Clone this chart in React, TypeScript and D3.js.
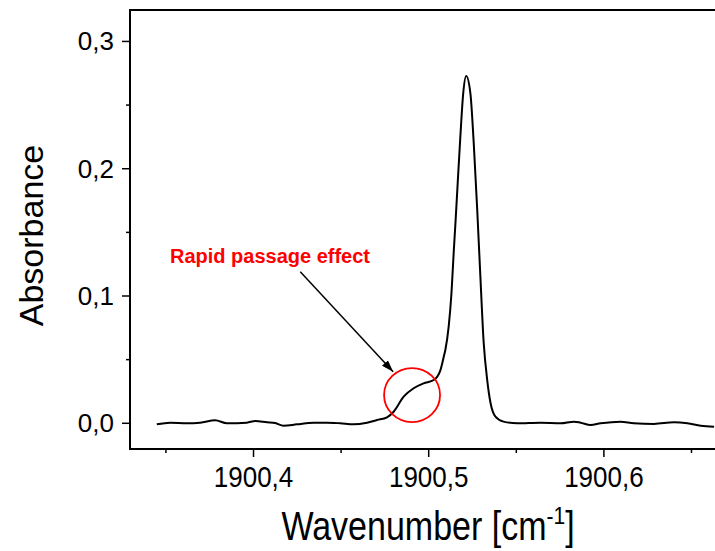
import React from "react";
import * as d3 from "d3";

// Spectrum
const wavenumber = [
  1900.3448, 1900.3524, 1900.3619, 1900.3695, 1900.3781, 1900.3848, 1900.3962, 1900.401,
  1900.4077, 1900.4124, 1900.4171, 1900.4248, 1900.4343, 1900.4419, 1900.4495, 1900.4571,
  1900.4648, 1900.4705, 1900.4762, 1900.48, 1900.4857, 1900.4914, 1900.4971, 1900.5029,
  1900.5067, 1900.5086, 1900.5095, 1900.5114, 1900.513, 1900.5143, 1900.5153, 1900.5166,
  1900.5181, 1900.5197, 1900.5214, 1900.5238, 1900.5257, 1900.5277, 1900.5295, 1900.5314,
  1900.5334, 1900.5353, 1900.5381, 1900.5427, 1900.5505, 1900.5638, 1900.5753, 1900.5829,
  1900.5867, 1900.5924, 1900.5981, 1900.6095, 1900.6171, 1900.6286, 1900.64, 1900.6477,
  1900.6553, 1900.6629,
];
const absorbance = [
  -0.0008, 0.0005, 0.0, 0.0004, 0.0024, 0.0, 0.0005, 0.0018,
  0.0008, 0.0002, -0.0019, -0.0008, 0.0005, 0.0005, 0.0, -0.0008,
  0.0005, 0.0026, 0.0047, 0.0091, 0.0209, 0.0275, 0.0314, 0.034,
  0.0418, 0.0523, 0.0576, 0.0759, 0.1024, 0.135, 0.158, 0.19,
  0.226, 0.2592, 0.2728, 0.2592, 0.2202, 0.1676, 0.1152, 0.0631,
  0.034, 0.0159, 0.0052, 0.0013, 0.0, 0.0005, 0.0, 0.0013,
  0.0005, -0.0013, 0.0, 0.0013, 0.0, -0.0005, 0.0008, 0.0,
  -0.0019, -0.0027,
];

const xTicksMajor = [1900.4, 1900.5, 1900.6];
const xTicksMinor = [1900.35, 1900.45, 1900.55, 1900.65];
const yTicksMajor = [0, 0.1, 0.2, 0.3];
const yTicksMinor = [0.05, 0.15, 0.25];
const xDomain = [1900.3295, 1900.6697];
const yDomain = [-0.0202, 0.3247];

const annotationText = "Rapid passage effect";
const annotationTextPos = [1900.3523, 0.1259];
const arrowFrom = [1900.4267, 0.1191];
const arrowTo = [1900.4797, 0.0405];
const circleCenter = [1900.4905, 0.0222];

const fmt = (v: number, d: number) => v.toFixed(d).replace(".", ",");

export default function App() {
  const W = 715;
  const H = 551;
  const left = 130;
  const right = 726;
  const top = 10;
  const bottom = 449;
  const x = d3.scaleLinear().domain(xDomain).range([left, right]);
  const y = d3.scaleLinear().domain(yDomain).range([bottom, top]);
  const pts = wavenumber.map((w, i) => [w, absorbance[i]] as [number, number]);
  const line = d3
    .line<[number, number]>()
    .x((d) => x(d[0]))
    .y((d) => y(d[1]))
    .curve(d3.curveMonotoneX);
  const font = "'Liberation Sans', Arial, sans-serif";

  return (
    <svg
      width={W}
      height={H}
      style={{ position: "absolute", left: 0, top: 0, background: "#fff" }}
      fontFamily={font}
    >
      <defs>
        <marker
          id="ah"
          viewBox="0 0 12 8"
          refX="12"
          refY="4"
          markerWidth="12"
          markerHeight="8"
          markerUnits="userSpaceOnUse"
          orient="auto"
        >
          <path d="M0,0 L12,4 L0,8 Z" fill="#000" />
        </marker>
      </defs>
      {/* frame */}
      <line x1={left} x2={left} y1={top - 1} y2={bottom + 1} stroke="#000" strokeWidth={2} />
      <line x1={left - 1} x2={W} y1={bottom} y2={bottom} stroke="#000" strokeWidth={2} />
      <line x1={left - 1} x2={W} y1={top} y2={top} stroke="#000" strokeWidth={2} />
      {/* y ticks */}
      {yTicksMajor.map((t) => (
        <g key={"ym" + t}>
          <line x1={left - 8} x2={left} y1={y(t)} y2={y(t)} stroke="#000" strokeWidth={1.5} />
          <text x={114} y={y(t) + 9} textAnchor="end" fontSize={26} fill="#000">
            {fmt(t, 1)}
          </text>
        </g>
      ))}
      {yTicksMinor.map((t) => (
        <line key={"yn" + t} x1={left - 4} x2={left} y1={y(t)} y2={y(t)} stroke="#000" strokeWidth={1.5} />
      ))}
      {/* x ticks */}
      {xTicksMajor.map((t) => (
        <g key={"xm" + t}>
          <line x1={x(t)} x2={x(t)} y1={bottom} y2={bottom + 8} stroke="#000" strokeWidth={1.5} />
          <text
            transform={`translate(${x(t)},487) scale(1,1.17)`}
            textAnchor="middle"
            fontSize={26}
            fill="#000"
          >
            {fmt(t, 1)}
          </text>
        </g>
      ))}
      {xTicksMinor.map((t) => (
        <line key={"xn" + t} x1={x(t)} x2={x(t)} y1={bottom} y2={bottom + 4} stroke="#000" strokeWidth={1.5} />
      ))}
      {/* axis titles */}
      <text
        transform={`translate(${(left + right) / 2},540) scale(1,1.17)`}
        textAnchor="middle"
        fontSize={34}
        fill="#000"
      >
        Wavenumber [cm
        <tspan fontSize={21} dy={-14}>-1</tspan>
        <tspan dy={14}>]</tspan>
      </text>
      <text
        transform={`translate(43,${(top + bottom) / 2 + 6}) rotate(-90)`}
        textAnchor="middle"
        fontSize={34}
        fill="#000"
      >
        Absorbance
      </text>
      {/* spectrum */}
      <path d={line(pts) || ""} fill="none" stroke="#000" strokeWidth={2} strokeLinejoin="round" />
      {/* annotation */}
      <text
        x={x(annotationTextPos[0])}
        y={y(annotationTextPos[1])}
        fontSize={20}
        fontWeight="bold"
        fill="#ff0000"
      >
        {annotationText}
      </text>
      <line
        x1={x(arrowFrom[0])}
        y1={y(arrowFrom[1])}
        x2={x(arrowTo[0])}
        y2={y(arrowTo[1])}
        stroke="#000"
        strokeWidth={1.5}
        markerEnd="url(#ah)"
      />
      <ellipse
        cx={x(circleCenter[0])}
        cy={y(circleCenter[1])}
        rx={28}
        ry={27}
        fill="none"
        stroke="#ff0000"
        strokeWidth={1.8}
      />
    </svg>
  );
}
